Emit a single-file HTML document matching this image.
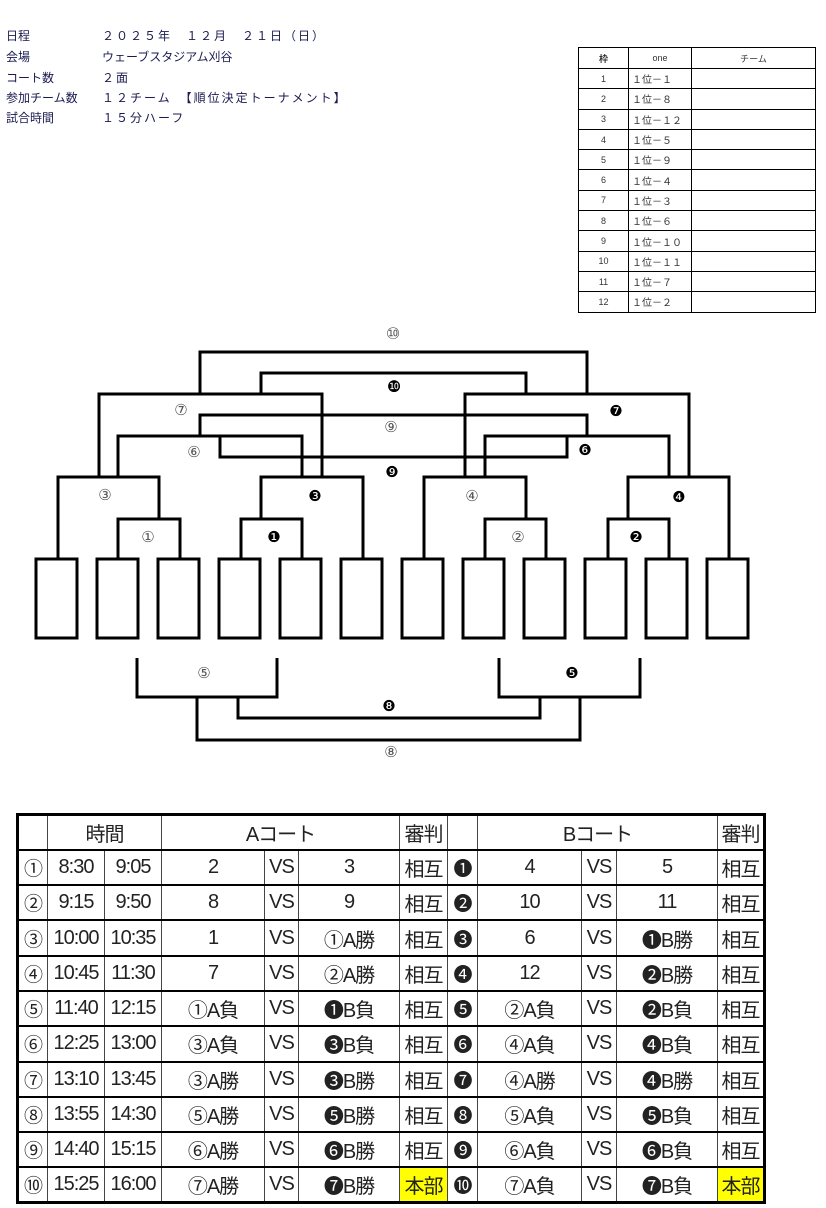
<!DOCTYPE html>
<html><head><meta charset="utf-8">
<style>
*{margin:0;padding:0;box-sizing:border-box}
body{width:826px;height:1208px;background:#fff;position:relative;overflow:hidden;font-family:"Liberation Sans","Noto Sans CJK JP",sans-serif;color:#222}
.info{position:absolute;left:6px;font-size:12px;line-height:14px;color:#1a1a50}
.info span{position:absolute;left:96px;white-space:nowrap;letter-spacing:2px}
.st{position:absolute;left:578px;top:47px;border-collapse:collapse;font-size:9px;color:#333}
.st td{border:1.5px solid #000;height:20.3px;padding:0 3px}
.st td:nth-child(2){font-size:10px}
.st td:first-child{text-align:center}
.bt{position:absolute;left:16px;top:813px;border-collapse:collapse;table-layout:fixed;border:3px solid #000;font-size:20px;color:#222;letter-spacing:-1px}
.bt td{border-top:2.5px solid #000;border-bottom:2.5px solid #000;border-left:1px solid #444;border-right:1px solid #444;text-align:center;height:35.3px;padding:0;white-space:nowrap;overflow:hidden;font-family:"Liberation Sans","Noto Sans CJK JP",sans-serif}
.bt td.n{font-size:19px}
.y{background:#ffff00}
.lb{font-family:"DejaVu Sans","Noto Sans CJK JP",sans-serif}
</style></head><body>
<div class="info" style="top:29px">日程<span>２０２５年　１２月　２１日（日）</span></div>
<div class="info" style="top:50px">会場<span style="letter-spacing:0">ウェーブスタジアム刈谷</span></div>
<div class="info" style="top:71px">コート数<span>２面</span></div>
<div class="info" style="top:91px">参加チーム数<span>１２チーム　【順位決定トーナメント】</span></div>
<div class="info" style="top:111px">試合時間<span>１５分ハーフ</span></div>

<table class="st">
<tr><td style="width:50px;height:21px"><b>枠</b></td><td style="width:63px;text-align:center;font-size:9px">one</td><td style="width:124px;text-align:center">チーム</td></tr>
<tr><td>1</td><td>１位－１</td><td></td></tr>
<tr><td>2</td><td>１位－８</td><td></td></tr>
<tr><td>3</td><td>１位－１２</td><td></td></tr>
<tr><td>4</td><td>１位－５</td><td></td></tr>
<tr><td>5</td><td>１位－９</td><td></td></tr>
<tr><td>6</td><td>１位－４</td><td></td></tr>
<tr><td>7</td><td>１位－３</td><td></td></tr>
<tr><td>8</td><td>１位－６</td><td></td></tr>
<tr><td>9</td><td>１位－１０</td><td></td></tr>
<tr><td>10</td><td>１位－１１</td><td></td></tr>
<tr><td>11</td><td>１位－７</td><td></td></tr>
<tr><td>12</td><td>１位－２</td><td></td></tr>
</table>

<svg style="position:absolute;left:0;top:0" width="826" height="800" xmlns="http://www.w3.org/2000/svg">
<g fill="none" stroke="#000" stroke-width="3">
<rect x="36" y="559" width="41" height="79"/>
<rect x="97" y="559" width="41" height="79"/>
<rect x="158" y="559" width="41" height="79"/>
<rect x="219" y="559" width="41" height="79"/>
<rect x="280" y="559" width="41" height="79"/>
<rect x="341" y="559" width="41" height="79"/>
<rect x="402" y="559" width="41" height="79"/>
<rect x="463" y="559" width="41" height="79"/>
<rect x="524" y="559" width="41" height="79"/>
<rect x="585" y="559" width="41" height="79"/>
<rect x="646" y="559" width="41" height="79"/>
<rect x="707" y="559" width="41" height="79"/>
<polyline points="118,559 118,519 180,519 180,559"/>
<polyline points="241,559 241,519 302,519 302,559"/>
<polyline points="485,559 485,519 546,519 546,559"/>
<polyline points="608,559 608,519 669,519 669,559"/>
<polyline points="58,559 58,477 159,477 159,519"/>
<polyline points="261,519 261,477 363,477 363,559"/>
<polyline points="424,559 424,477 526,477 526,519"/>
<polyline points="628,519 628,477 729,477 729,559"/>
<polyline points="99,477 99,394 322,394 322,477"/>
<polyline points="118,477 118,436 302,436 302,477"/>
<polyline points="465,477 465,394 689,394 689,477"/>
<polyline points="485,477 485,436 669,436 669,477"/>
<polyline points="200,394 200,352 587,352 587,394"/>
<polyline points="261,394 261,373 526,373 526,394"/>
<polyline points="200,436 200,415 587,415 587,436"/>
<polyline points="220,436 220,457 567,457 567,436"/>
<polyline points="137,658 137,697 277,697 277,658"/>
<polyline points="499,658 499,697 640,697 640,658"/>
<polyline points="238,697 238,718 540,718 540,697"/>
<polyline points="197,697 197,740 580,740 580,697"/>
</g>
<g text-anchor="middle" class="lb" font-size="15" stroke-width="0.4">
<text x="393" y="339" fill="#555" font-size="16">⑩</text>
<text x="394" y="392" font-size="16">❿</text>
<text x="181" y="415" fill="#555">⑦</text>
<text x="616" y="416">❼</text>
<text x="391" y="432" fill="#555">⑨</text>
<text x="194" y="457" fill="#555">⑥</text>
<text x="585" y="455">❻</text>
<text x="392" y="477">❾</text>
<text x="105" y="500" fill="#555">③</text>
<text x="315" y="501">❸</text>
<text x="472" y="501" fill="#555">④</text>
<text x="679" y="502">❹</text>
<text x="148" y="542" fill="#555">①</text>
<text x="274" y="542">❶</text>
<text x="518" y="542" fill="#555">②</text>
<text x="636" y="542">❷</text>
<text x="204" y="678" fill="#555">⑤</text>
<text x="572" y="678">❺</text>
<text x="389" y="711">❽</text>
<text x="391" y="757" fill="#555">⑧</text>
</g>
</svg>

<table class="bt">
<colgroup><col style="width:30px"><col style="width:57px"><col style="width:57px"><col style="width:103px"><col style="width:34px"><col style="width:101px"><col style="width:48px"><col style="width:30px"><col style="width:104px"><col style="width:35px"><col style="width:101px"><col style="width:47px"></colgroup>
<tr><td></td><td colspan="2">時間</td><td colspan="3">Aコート</td><td>審判</td><td></td><td colspan="3">Bコート</td><td>審判</td></tr>
<tr><td class="n">①</td><td>8:30</td><td>9:05</td><td>2</td><td>VS</td><td>3</td><td>相互</td><td class="n">❶</td><td>4</td><td>VS</td><td>5</td><td>相互</td></tr>
<tr><td class="n">②</td><td>9:15</td><td>9:50</td><td>8</td><td>VS</td><td>9</td><td>相互</td><td class="n">❷</td><td>10</td><td>VS</td><td>11</td><td>相互</td></tr>
<tr><td class="n">③</td><td>10:00</td><td>10:35</td><td>1</td><td>VS</td><td>①A勝</td><td>相互</td><td class="n">❸</td><td>6</td><td>VS</td><td>❶B勝</td><td>相互</td></tr>
<tr><td class="n">④</td><td>10:45</td><td>11:30</td><td>7</td><td>VS</td><td>②A勝</td><td>相互</td><td class="n">❹</td><td>12</td><td>VS</td><td>❷B勝</td><td>相互</td></tr>
<tr><td class="n">⑤</td><td>11:40</td><td>12:15</td><td>①A負</td><td>VS</td><td>❶B負</td><td>相互</td><td class="n">❺</td><td>②A負</td><td>VS</td><td>❷B負</td><td>相互</td></tr>
<tr><td class="n">⑥</td><td>12:25</td><td>13:00</td><td>③A負</td><td>VS</td><td>❸B負</td><td>相互</td><td class="n">❻</td><td>④A負</td><td>VS</td><td>❹B負</td><td>相互</td></tr>
<tr><td class="n">⑦</td><td>13:10</td><td>13:45</td><td>③A勝</td><td>VS</td><td>❸B勝</td><td>相互</td><td class="n">❼</td><td>④A勝</td><td>VS</td><td>❹B勝</td><td>相互</td></tr>
<tr><td class="n">⑧</td><td>13:55</td><td>14:30</td><td>⑤A勝</td><td>VS</td><td>❺B勝</td><td>相互</td><td class="n">❽</td><td>⑤A負</td><td>VS</td><td>❺B負</td><td>相互</td></tr>
<tr><td class="n">⑨</td><td>14:40</td><td>15:15</td><td>⑥A勝</td><td>VS</td><td>❻B勝</td><td>相互</td><td class="n">❾</td><td>⑥A負</td><td>VS</td><td>❻B負</td><td>相互</td></tr>
<tr><td class="n">⑩</td><td>15:25</td><td>16:00</td><td>⑦A勝</td><td>VS</td><td>❼B勝</td><td class="y">本部</td><td class="n">❿</td><td>⑦A負</td><td>VS</td><td>❼B負</td><td class="y">本部</td></tr>
</table>
</body></html>
